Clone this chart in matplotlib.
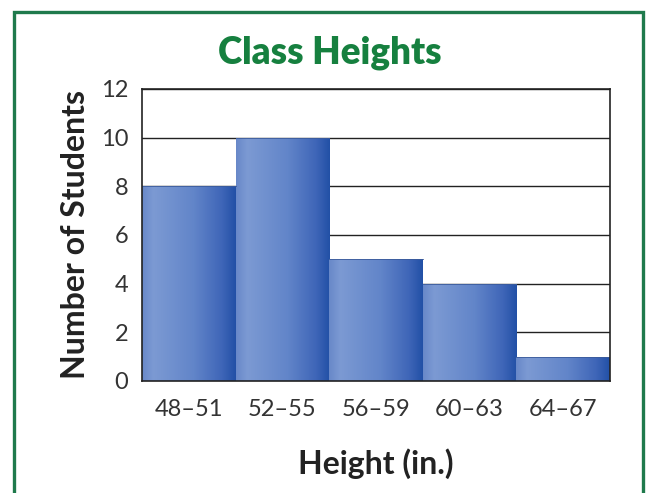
import numpy as np
import matplotlib
matplotlib.use("Agg")
import matplotlib.pyplot as plt
from matplotlib.colors import LinearSegmentedColormap
from matplotlib.patches import Rectangle

# Data
categories = ["48–51", "52–55", "56–59", "60–63", "64–67"]
counts = [8, 10, 5, 4, 1]
y_ticks = [0, 2, 4, 6, 8, 10, 12]

title_text = "Class Heights"
x_label = "Height (in.)"
y_label = "Number of Students"

green = "#16803f"
border_green = "#1f7a4c"

label_font = ["Lato", "DejaVu Sans"]

fig = plt.figure(figsize=(6.52, 4.93), dpi=100)
fig.patch.set_facecolor("white")

# Outer frame around the whole figure
frame = Rectangle((0.0215, -0.01), 0.9645, 0.9857, transform=fig.transFigure,
                  fill=False, edgecolor=border_green, linewidth=2.4, zorder=10)
fig.patches.append(frame)

ax = fig.add_axes([0.2178, 0.2272, 0.7178, 0.5923])

x = np.arange(len(categories))
bars = ax.bar(x, counts, width=1.0, color="#5a7fc4", edgecolor="none", zorder=2)

# Left-to-right shading inside each bar
cmap = LinearSegmentedColormap.from_list(
    "barshade",
    [(0.0, "#6888c8"), (0.12, "#7c9ad3"), (0.55, "#6285c9"),
     (0.85, "#3f66b8"), (1.0, "#2250a6")])
grad = np.linspace(0, 1, 256).reshape(1, -1)
for b in bars:
    bx, bw, bh = b.get_x(), b.get_width(), b.get_height()
    im = ax.imshow(grad, cmap=cmap, aspect="auto",
                   extent=[bx, bx + bw, 0, bh], zorder=3, interpolation="bilinear")
    im.set_clip_path(b)
    # faint darker rim along the top edge
    ax.plot([bx, bx + bw], [bh, bh], color="#3a5a9a", lw=0.6, zorder=4)

ax.set_xlim(-0.5, len(categories) - 0.5)
ax.set_ylim(0, 12)

ax.set_yticks(y_ticks)
ax.set_yticklabels([str(t) for t in y_ticks], fontsize=17, family=label_font,
                   color="#333333")
ax.set_xticks(x)
ax.set_xticklabels(categories, fontsize=17, family=label_font, color="#333333")
ax.tick_params(axis="both", length=0)
ax.tick_params(axis="y", pad=10)
ax.tick_params(axis="x", pad=13)

ax.yaxis.grid(True, color="#222222", linewidth=1.0, zorder=1)
ax.set_axisbelow(True)
for s in ax.spines.values():
    s.set_color("#222222")
    s.set_linewidth(1.2)
    s.set_zorder(5)

ax.set_ylabel(y_label, fontsize=23, fontweight="bold", family=label_font,
              color="#222222", labelpad=8)
ax.set_xlabel(x_label, fontsize=23, fontweight="bold", family=label_font,
              color="#222222", labelpad=20)

fig.text(0.506, 0.893, title_text, ha="center", va="center", fontsize=26.5,
         fontweight="heavy", family=label_font, color=green)

fig.savefig("out.png", dpi=100, facecolor="white")
